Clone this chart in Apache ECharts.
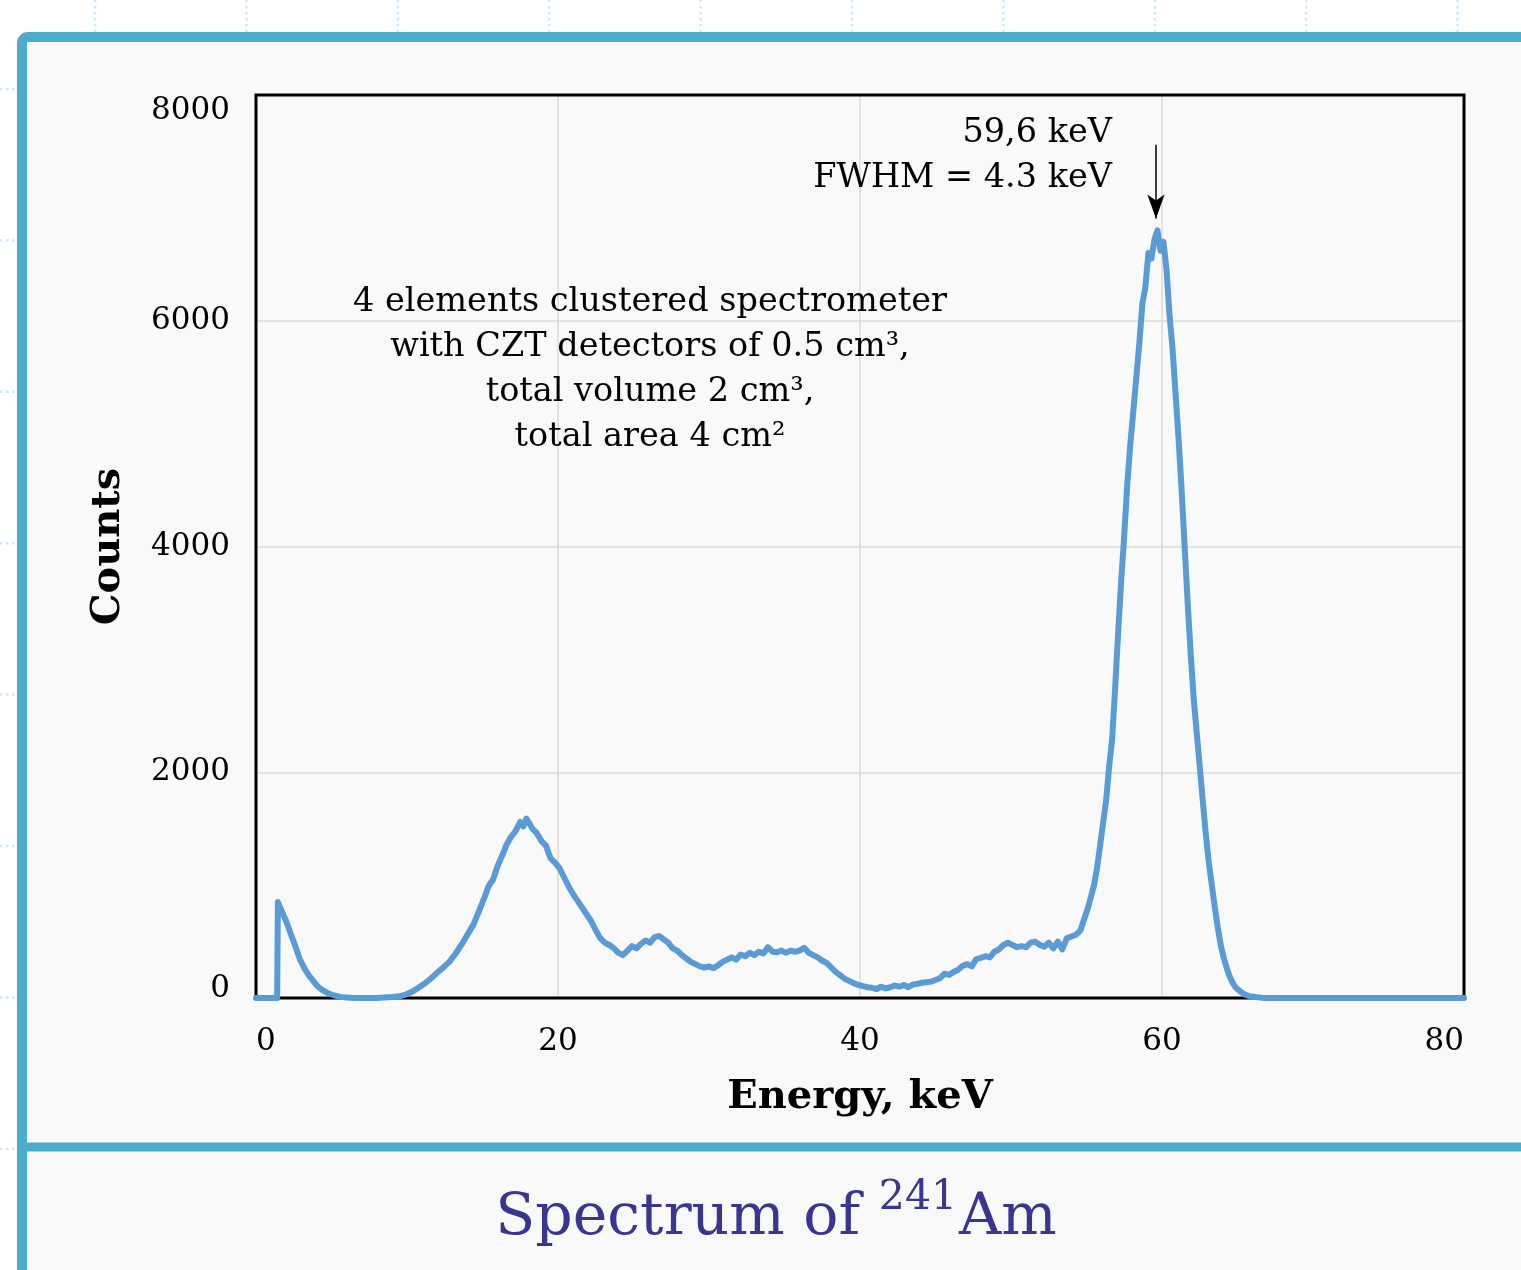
<!DOCTYPE html>
<html>
<head>
<meta charset="utf-8">
<title>Spectrum of 241Am</title>
<script src="https://cdn.jsdelivr.net/npm/echarts@6.0.0/dist/echarts.min.js"></script>
<style>
    html, body { margin: 0; padding: 0; background: #ffffff; }
    #chart { width: 1521px; height: 1270px; }
</style>
</head>
<body>
<div id="chart"></div>
<script>
// energy, keV
const energies = [
    0, 0.5, 1.0, 1.4, 1.45, 1.7, 2.0, 2.3, 2.6, 2.9, 3.2, 3.5, 3.8, 4.1, 4.4, 4.8, 5.2, 5.6, 6.0, 6.5,
    7.0, 7.5, 8.0, 8.5, 9.0, 9.5, 10.0, 10.4, 10.8, 11.2, 11.6, 12.0, 12.4, 12.8, 13.2, 13.6, 14.0, 14.4, 14.8, 15.1,
    15.4, 15.7, 16.0, 16.3, 16.6, 16.9, 17.2, 17.5, 17.7, 17.9, 18.1, 18.3, 18.6, 18.9, 19.2, 19.5, 19.8, 20.1, 20.4, 20.7,
    21.0, 21.3, 21.6, 21.9, 22.2, 22.5, 22.8, 23.1, 23.4, 23.7, 24.0, 24.3, 24.6, 24.9, 25.2, 25.5, 25.8, 26.1, 26.4, 26.7,
    27.0, 27.3, 27.6, 27.9, 28.2, 28.5, 28.8, 29.1, 29.4, 29.7, 30.0, 30.3, 30.6, 30.9, 31.2, 31.5, 31.8, 32.1, 32.4, 32.7,
    33.0, 33.3, 33.6, 33.9, 34.2, 34.5, 34.8, 35.1, 35.4, 35.7, 36.0, 36.3, 36.6, 36.9, 37.2, 37.5, 37.8, 38.1, 38.4, 38.7,
    39.0, 39.3, 39.6, 39.9, 40.2, 40.5, 40.8, 41.1, 41.4, 41.7, 42.0, 42.3, 42.6, 42.9, 43.2, 43.5, 43.8, 44.1, 44.4, 44.7,
    45.0, 45.3, 45.6, 45.9, 46.2, 46.5, 46.8, 47.1, 47.4, 47.7, 48.0, 48.3, 48.6, 48.9, 49.2, 49.5, 49.8, 50.1, 50.4, 50.7,
    51.0, 51.3, 51.6, 51.9, 52.2, 52.5, 52.8, 53.1, 53.4, 53.7, 54.0, 54.3, 54.6, 54.9, 55.1, 55.3, 55.5, 55.7, 55.9, 56.1,
    56.3, 56.5, 56.7, 56.9, 57.1, 57.3, 57.5, 57.7, 57.9, 58.1, 58.3, 58.5, 58.7, 58.9, 59.1, 59.3, 59.5, 59.7, 59.9, 60.1,
    60.3, 60.5, 60.7, 60.9, 61.1, 61.3, 61.5, 61.7, 61.9, 62.1, 62.3, 62.5, 62.7, 62.9, 63.1, 63.3, 63.5, 63.7, 63.9, 64.1,
    64.3, 64.5, 64.7, 64.9, 65.2, 65.5, 65.8, 66.2, 66.6, 67, 68, 69, 70, 72, 74, 76, 78, 80
]
// counts
const counts = [
    0, 0, 0, 0, 850, 770, 680, 570, 460, 345, 265, 200, 150, 100, 70, 40, 22, 10, 5, 0,
    0, 0, 0, 5, 8, 15, 35, 60, 95, 130, 175, 225, 270, 320, 390, 470, 560, 650, 780, 880,
    990, 1050, 1170, 1260, 1360, 1430, 1480, 1560, 1520, 1590, 1550, 1500, 1460, 1390, 1350, 1240, 1200, 1150, 1070, 990,
    920, 860, 800, 740, 680, 600, 530, 490, 470, 440, 400, 380, 420, 460, 440, 480, 510, 490, 540, 550,
    520, 490, 440, 420, 380, 350, 320, 300, 280, 270, 280, 265, 290, 320, 340, 360, 340, 385, 370, 400,
    380, 410, 395, 450, 410, 405, 420, 400, 420, 410, 420, 445, 400, 380, 360, 330, 310, 270, 230, 200,
    170, 150, 130, 115, 105, 95, 90, 80, 100, 85, 95, 110, 100, 115, 95, 120, 125, 135, 140, 145,
    160, 175, 215, 205, 230, 250, 285, 300, 280, 345, 355, 370, 360, 410, 430, 470, 490, 470, 450, 460,
    450, 490, 500, 470, 455, 490, 440, 500, 430, 530, 545, 560, 600, 720, 800, 900, 1000, 1150, 1350, 1550,
    1750, 2050, 2300, 2750, 3250, 3700, 4100, 4550, 4900, 5200, 5500, 5800, 6150, 6300, 6600, 6550, 6720, 6800, 6620, 6700,
    6450, 6050, 5750, 5350, 4950, 4500, 4000, 3500, 3050, 2650, 2350, 2050, 1750, 1450, 1200, 1000, 800, 620, 460, 350,
    260, 185, 130, 90, 55, 30, 15, 8, 3, 0, 0, 0, 0, 0, 0, 0, 0, 0
]
const xTicks = [0, 20, 40, 60, 80]
const yTicks = [0, 2000, 4000, 6000, 8000]
const peakEnergy = 59.6
const noteLines = [
    '4 elements clustered spectrometer',
    'with CZT detectors of 0.5 cm³,',
    'total volume 2 cm³,',
    'total area 4 cm²'
]

const serif = '"DejaVu Serif", "Liberation Serif", serif'
const teal = '#4badc7'

// dotted backdrop grid behind the panel
let backdrop = []
for (let i = 0; i < 11; i++) {
    let x = 95 + i * 151.4
    backdrop.push({
        type: 'line', z: -3, silent: true,
        shape: {x1: x, y1: 0, x2: x, y2: 1270},
        style: {stroke: '#cfe7f7', lineWidth: 2.5, lineDash: [2.5, 3.5]}
    })
}
for (let j = 0; j < 9; j++) {
    let y = 89 + j * 151.4
    backdrop.push({
        type: 'line', z: -3, silent: true,
        shape: {x1: 0, y1: y, x2: 1521, y2: y},
        style: {stroke: '#cfe7f7', lineWidth: 2.5, lineDash: [2.5, 3.5]}
    })
}

let chart = echarts.init(document.getElementById('chart'), null, {renderer: 'canvas'})
chart.setOption({
    animation: false,
    backgroundColor: '#ffffff',
    textStyle: {fontFamily: serif},
    grid: {
        left: 256,
        top: 95,
        right: 57,
        bottom: 272,
        show: true,
        borderColor: '#000000',
        borderWidth: 3,
        backgroundColor: 'transparent',
        z: 3
    },
    xAxis: {
        type: 'value',
        min: xTicks[0],
        max: xTicks[xTicks.length - 1],
        interval: 20,
        name: 'Energy, keV',
        nameLocation: 'middle',
        nameGap: 80,
        nameTextStyle: {fontFamily: serif, fontWeight: 'bold', fontSize: 40, color: '#000'},
        axisLine: {show: false},
        axisTick: {show: false},
        axisLabel: {
            fontFamily: serif, fontSize: 31, color: '#000', margin: 28,
            formatter: v => String(v),
            alignMinLabel: 'left', alignMaxLabel: 'right'
        },
        splitLine: {lineStyle: {color: '#dadada', width: 1.5}}
    },
    yAxis: {
        type: 'value',
        min: yTicks[0],
        max: yTicks[yTicks.length - 1],
        interval: 2000,
        name: 'Counts',
        nameLocation: 'middle',
        nameGap: 127,
        nameTextStyle: {fontFamily: serif, fontWeight: 'bold', fontSize: 40, color: '#000'},
        axisLine: {show: false},
        axisTick: {show: false},
        axisLabel: {
            fontFamily: serif, fontSize: 31, color: '#000', margin: 26,
            formatter: v => (v === 0 ? '{z|0}' : String(v)),
            rich: {z: {fontFamily: serif, fontSize: 31, color: '#000', lineHeight: 18}},
            verticalAlignMinLabel: 'bottom', verticalAlignMaxLabel: 'top'
        },
        splitLine: {lineStyle: {color: '#dadada', width: 1.5}}
    },
    series: [{
        name: 'Counts',
        type: 'line',
        data: energies.map((e, i) => [e, counts[i]]),
        showSymbol: false,
        smooth: false,
        z: 5,
        lineStyle: {color: '#5b9bd5', width: 6, cap: 'round', join: 'round'},
        markLine: {
            silent: true,
            symbol: ['none', 'arrow'],
            symbolSize: [13, 24],
            label: {show: false},
            lineStyle: {color: '#000', width: 1.5, type: 'solid'},
            data: [[{coord: [peakEnergy, 7560]}, {coord: [peakEnergy, 6905]}]]
        }
    }],
    graphic: backdrop.concat([
        {
            type: 'rect', z: -2, silent: true,
            shape: {x: 22, y: 37, width: 1600, height: 1400, r: 6},
            style: {fill: '#f9f9f9', stroke: teal, lineWidth: 10}
        },
        {
            type: 'line', z: -1, silent: true,
            shape: {x1: 22, y1: 1147, x2: 1530, y2: 1147},
            style: {stroke: teal, lineWidth: 9}
        },
        {
            type: 'text', z: 10, silent: true,
            style: {
                x: 1112, y: 111, text: '59,6 keV\nFWHM = 4.3 keV',
                font: '33.5px ' + serif, fill: '#000',
                align: 'right', verticalAlign: 'top', lineHeight: 45
            }
        },
        {
            type: 'text', z: 10, silent: true,
            style: {
                x: 650, y: 280, text: noteLines.join('\n'),
                font: '33.5px ' + serif, fill: '#000',
                align: 'center', verticalAlign: 'top', lineHeight: 45
            }
        },
        {
            type: 'text', z: 10, silent: true,
            style: {
                x: 776, y: 1213,
                text: '{t|Spectrum of }{s|241}{t|Am}',
                align: 'center', verticalAlign: 'middle',
                rich: {
                    t: {fontFamily: serif, fontSize: 58.5, fill: '#3b358f', verticalAlign: 'bottom', lineHeight: 70},
                    s: {fontFamily: serif, fontSize: 41, fill: '#3b358f', verticalAlign: 'top', lineHeight: 70, padding: [0, 2, 26, 0]}
                }
            }
        }
    ])
})
</script>
</body>
</html>
